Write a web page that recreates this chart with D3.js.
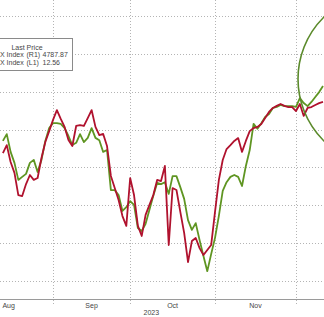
<!DOCTYPE html>
<html>
<head>
<meta charset="utf-8">
<script src="https://cdn.jsdelivr.net/npm/d3@7"></script>
<style>
  body { margin: 0; background: #fff; }
  svg { display: block; font-family: "Liberation Sans", Arial, sans-serif; }
</style>
</head>
<body>
<svg width="324" height="317"></svg>
<script>
// trading sessions shown in the window
const sessions = [
  "2023-08-14","2023-08-15","2023-08-16","2023-08-17","2023-08-18","2023-08-21","2023-08-22","2023-08-23","2023-08-24","2023-08-25",
  "2023-08-28","2023-08-29","2023-08-30","2023-08-31","2023-09-01","2023-09-05","2023-09-06","2023-09-07","2023-09-08","2023-09-11",
  "2023-09-12","2023-09-13","2023-09-14","2023-09-15","2023-09-18","2023-09-19","2023-09-20","2023-09-21","2023-09-22","2023-09-25",
  "2023-09-26","2023-09-27","2023-09-28","2023-09-29","2023-10-02","2023-10-03","2023-10-04","2023-10-05","2023-10-06","2023-10-09",
  "2023-10-10","2023-10-11","2023-10-12","2023-10-13","2023-10-16","2023-10-17","2023-10-18","2023-10-19","2023-10-20","2023-10-23",
  "2023-10-24","2023-10-25","2023-10-26","2023-10-27","2023-10-30","2023-10-31","2023-11-01","2023-11-02","2023-11-03","2023-11-06",
  "2023-11-07","2023-11-08","2023-11-09","2023-11-10","2023-11-13","2023-11-14","2023-11-15","2023-11-16","2023-11-17","2023-11-20",
  "2023-11-21","2023-11-22","2023-11-24","2023-11-27","2023-11-28","2023-11-29","2023-11-30","2023-12-01","2023-12-04","2023-12-05",
  "2023-12-06","2023-12-07","2023-12-08","2023-12-11"
]

// green line, right axis (R1)
const spx = [
  4470,4488,4441,4412,4367,4375,4383,4412,4420,4388,
  4420,4470,4504,4517,4517,4515,4504,4483,4459,4465,
  4488,4467,4478,4504,4478,4472,4441,4446,4340,4340,
  4327,4285,4295,4311,4301,4240,4232,4251,4288,4325,
  4359,4356,4361,4330,4377,4377,4348,4317,4261,4235,
  4253,4208,4166,4126,4171,4214,4272,4338,4361,4375,
  4380,4375,4351,4404,4446,4515,4502,4517,4533,4541,
  4557,4560,4565,4562,4562,4562,4560,4583,4570,4562,
  4573,4586,4599,4615
]

// red line, left axis (L1), plotted inverted
const vix = [
  15.24,14.82,15.71,16.29,17.46,17.51,16.88,16.40,16.66,16.56,
  15.50,14.66,14.08,13.49,12.97,13.44,13.86,14.55,14.87,13.81,
  13.76,13.81,13.39,12.97,13.86,14.29,14.23,14.87,16.45,17.09,
  17.72,18.57,19.09,16.56,17.46,19.09,19.62,18.51,17.98,17.46,
  16.66,16.72,15.92,20.10,17.09,17.19,18.35,19.46,21.00,19.89,
  19.73,20.26,20.63,20.36,20.10,18.35,16.66,15.61,15.03,14.82,
  14.60,14.45,15.18,14.60,14.08,13.92,13.86,13.71,13.39,13.07,
  12.86,12.75,12.65,12.75,12.81,12.81,13.02,12.65,13.28,12.86,
  12.81,12.70,12.60,12.54
]

const rightTicks = [4100, 4200, 4300, 4400, 4500, 4600, 4700, 4800]
const monthLabels = ["Aug", "Sep", "Oct", "Nov"]
const yearLabel = "2023"
const legendTitle = "Last Price"
const legendNames = ["X Index", "X Index"]
const legendAxes = ["(R1)", "(L1)"]
const legendValues = ["4787.87", "12.56"]

var svg = d3.select("svg"),
  width = +svg.attr("width"),
  height = +svg.attr("height");

const parse = d3.timeParse("%Y-%m-%d")
const dates = sessions.map(parse)

const green = "#5f9522"
const red = "#b0122e"
const gridColor = "#b4b4b4"
const textColor = "#454545"

var plot = {top: 16, bottom: 281, axis: 299}

const x = d3.scaleLinear()
  .domain([0, sessions.length - 1])
  .range([2.9, 323])

const yR = d3.scaleLinear()
  .domain([4100, 4800])
  .range([plot.bottom, plot.top])

const yL = d3.scaleLinear()
  .domain([22, 8])
  .range([plot.bottom, plot.top])

svg.append("rect")
  .attr("width", width)
  .attr("height", height)
  .attr("fill", "white")

// month boundaries sit on the last session of each month
const monthEnds = []
dates.forEach((d, i) => {
  if (i < dates.length - 1 && d.getMonth() != dates[i + 1].getMonth()) monthEnds.push(i)
})

// sessions of the first month that fall before the window
const before = d3.timeDays(d3.timeMonth.floor(dates[0]), dates[0])
  .filter(d => d.getDay() % 6 != 0).length
const bounds = [-before - 1].concat(monthEnds)

const grid = svg.append("g")

grid.selectAll(".hgrid").data(rightTicks)
  .enter()
  .append("line")
  .attr("class", "hgrid")
  .attr("x1", 0)
  .attr("x2", width)
  .attr("y1", d => Math.round(yR(d)) + 0.5)
  .attr("y2", d => Math.round(yR(d)) + 0.5)
  .attr("stroke", gridColor)
  .attr("stroke-dasharray", "1,2")

grid.selectAll(".vgrid").data(monthEnds)
  .enter()
  .append("line")
  .attr("class", "vgrid")
  .attr("x1", d => Math.round(x(d)) + 0.5)
  .attr("x2", d => Math.round(x(d)) + 0.5)
  .attr("y1", 0)
  .attr("y2", plot.axis + 5)
  .attr("stroke", gridColor)
  .attr("stroke-dasharray", "1,2")

svg.append("line")
  .attr("x1", 0)
  .attr("x2", width)
  .attr("y1", plot.axis + 0.5)
  .attr("y2", plot.axis + 0.5)
  .attr("stroke", "#9a9a9a")

svg.selectAll(".month").data(monthLabels)
  .enter()
  .append("text")
  .attr("class", "month")
  .attr("x", (d, i) => (x(bounds[i]) + x(bounds[i + 1])) / 2)
  .attr("y", 308)
  .attr("text-anchor", "middle")
  .style("font-size", "7px")
  .attr("fill", textColor)
  .text(d => d)

svg.append("text")
  .attr("x", width * 0.467)
  .attr("y", 315)
  .attr("text-anchor", "middle")
  .style("font-size", "7px")
  .attr("fill", textColor)
  .text(yearLabel)

const lines = svg.append("g")

lines.append("path")
  .datum(spx)
  .attr("fill", "none")
  .attr("stroke", green)
  .attr("stroke-width", 1.8)
  .attr("stroke-linejoin", "round")
  .attr("d", d3.line().x((d, i) => x(i)).y(d => yR(d)))

lines.append("path")
  .datum(vix)
  .attr("fill", "none")
  .attr("stroke", red)
  .attr("stroke-width", 1.8)
  .attr("stroke-linejoin", "round")
  .attr("d", d3.line().x((d, i) => x(i)).y(d => yL(d)))

// legend box
const legend = svg.append("g")

legend.append("rect")
  .attr("x", -1.5)
  .attr("y", 38.5)
  .attr("width", 74)
  .attr("height", 32)
  .attr("fill", "white")
  .attr("stroke", "#8a8a8a")

legend.append("text")
  .attr("x", 27)
  .attr("y", 49.5)
  .attr("text-anchor", "middle")
  .style("font-size", "7px")
  .attr("fill", textColor)
  .text(legendTitle)

legendNames.forEach((name, i) => {
  const yy = 57.3 + i * 7.4
  legend.append("text").attr("x", 0).attr("y", yy)
    .style("font-size", "7px").attr("fill", textColor).text(name)
  legend.append("text").attr("x", 26.5).attr("y", yy)
    .style("font-size", "7px").attr("fill", textColor).text(legendAxes[i])
  legend.append("text").attr("x", 42.5).attr("y", yy)
    .style("font-size", "7px").attr("fill", textColor).text(legendValues[i])
})

// highlight circle at the right edge
svg.append("circle")
  .attr("cx", 385)
  .attr("cy", 79)
  .attr("r", 87)
  .attr("fill", "none")
  .attr("stroke", "#5b8a2b")
  .attr("stroke-width", 1.6)
</script>
</body>
</html>
